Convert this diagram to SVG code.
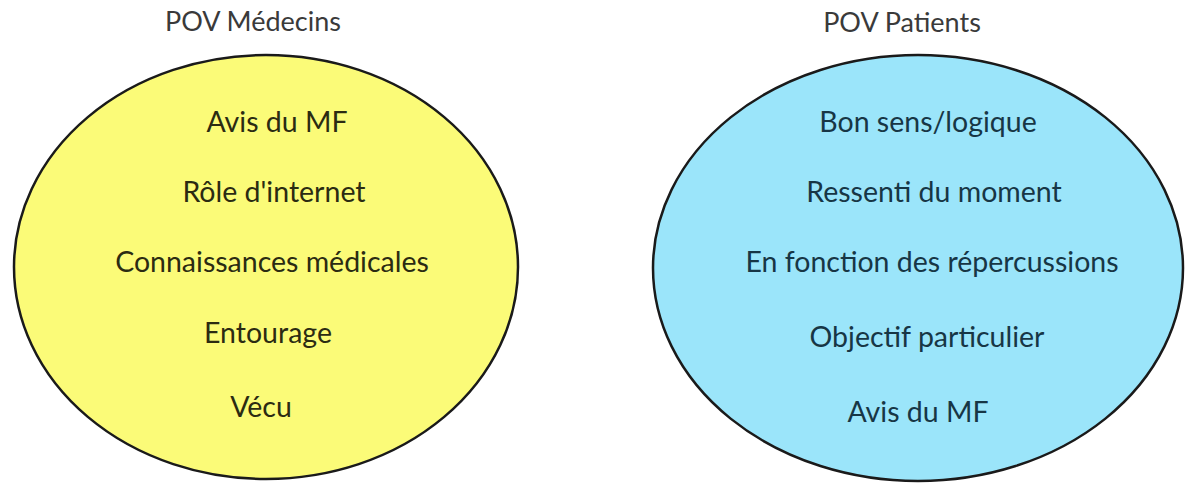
<svg xmlns="http://www.w3.org/2000/svg" width="1187" height="485" viewBox="0 0 1187 485">
<style>
.t{font-family:Lato,"Open Sans","DejaVu Sans",sans-serif;font-size:28.5px;text-anchor:middle}
.h{font-family:Lato,"Open Sans","DejaVu Sans",sans-serif;font-size:27px;text-anchor:middle;fill:#3a3a3a}
.el{stroke:#1a1a1a;stroke-width:2.5}
.y{fill:#2b2b12}
.b{fill:#173645}
</style>
<rect width="1187" height="485" fill="#ffffff"/>
<g id="medecins">
<text class="h" x="253" y="31">POV Médecins</text>
<ellipse class="el" cx="266" cy="267" rx="252" ry="212" fill="#fbfb78"/>
<text class="t y" x="277" y="132">Avis du MF</text>
<text class="t y" x="274" y="202">Rôle d'internet</text>
<text class="t y" x="272" y="272">Connaissances médicales</text>
<text class="t y" x="268" y="343">Entourage</text>
<text class="t y" x="261" y="417">Vécu</text>
</g>
<g id="patients">
<text class="h" x="902" y="32">POV Patients</text>
<ellipse class="el" cx="918" cy="268" rx="265" ry="213" fill="#9be5fa"/>
<text class="t b" x="928" y="132">Bon sens/logique</text>
<text class="t b" x="934" y="202">Ressenti du moment</text>
<text class="t b" x="932" y="272">En fonction des répercussions</text>
<text class="t b" x="927" y="347">Objectif particulier</text>
<text class="t b" x="918" y="422">Avis du MF</text>
</g>
<g id="connectors"></g>
</svg>
